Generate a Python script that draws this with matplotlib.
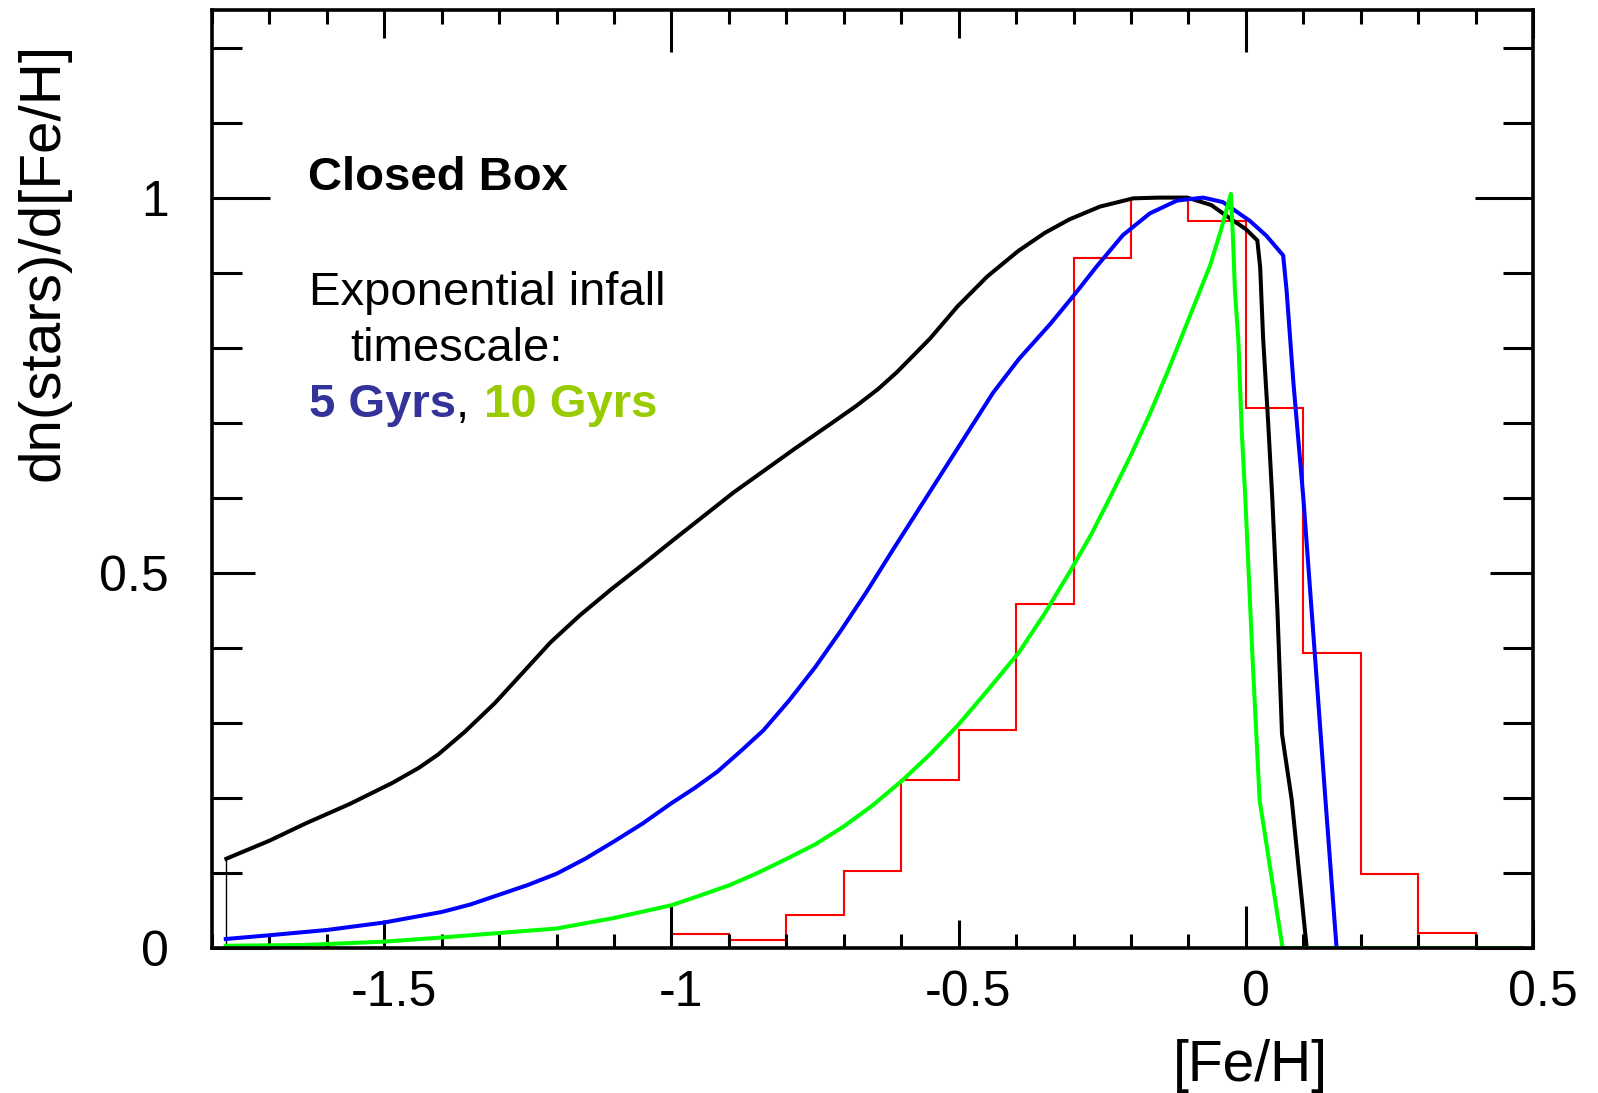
import numpy as np
import matplotlib
matplotlib.use('Agg')
import matplotlib.pyplot as plt
import matplotlib.transforms as mtransforms

plt.rcParams['font.family'] = ['Liberation Sans', 'DejaVu Sans']
plt.rcParams['axes.unicode_minus'] = False

# Closed box model (black)
closed_x = [-1.775, -1.70, -1.637, -1.56, -1.486, -1.44, -1.406, -1.36, -1.308, -1.26,
            -1.211, -1.16, -1.105, -1.05, -0.998, -0.892, -0.786, -0.72, -0.679, -0.64,
            -0.608, -0.55, -0.502, -0.45, -0.396, -0.35, -0.307, -0.254, -0.196, -0.150,
            -0.102, -0.060, -0.027, 0.0, 0.020, 0.025, 0.030, 0.039, 0.046, 0.055,
            0.063, 0.080, 0.106, 0.48]
closed_y = [0.119, 0.143, 0.166, 0.192, 0.220, 0.240, 0.258, 0.288, 0.326, 0.366,
            0.407, 0.443, 0.478, 0.511, 0.543, 0.607, 0.665, 0.700, 0.722, 0.745,
            0.767, 0.812, 0.855, 0.895, 0.929, 0.953, 0.971, 0.988, 0.999, 1.000,
            1.000, 0.990, 0.972, 0.958, 0.943, 0.907, 0.814, 0.699, 0.600, 0.450,
            0.285, 0.197, 0.0, 0.0]

# Exponential infall, 5 Gyr (blue)
infall5_x = [-1.776, -1.70, -1.60, -1.50, -1.40, -1.35, -1.30, -1.25, -1.20, -1.15,
             -1.10, -1.05, -1.00, -0.96, -0.92, -0.88, -0.84, -0.795, -0.75, -0.705,
             -0.66, -0.615, -0.57, -0.525, -0.48, -0.44, -0.395, -0.34, -0.297, -0.26,
             -0.214, -0.167, -0.12, -0.074, -0.04, 0.007, 0.036, 0.065, 0.071, 0.077,
             0.083, 0.092, 0.100, 0.120, 0.138, 0.158, 0.48]
infall5_y = [0.012, 0.017, 0.024, 0.034, 0.048, 0.058, 0.071, 0.084, 0.099, 0.119,
             0.142, 0.166, 0.193, 0.213, 0.235, 0.262, 0.290, 0.330, 0.374, 0.423,
             0.475, 0.530, 0.584, 0.638, 0.692, 0.740, 0.785, 0.832, 0.872, 0.908,
             0.950, 0.979, 0.996, 1.000, 0.994, 0.969, 0.949, 0.923, 0.876, 0.814,
             0.752, 0.672, 0.601, 0.393, 0.204, 0.0, 0.0]

# Exponential infall, 10 Gyr (green)
infall10_x = [-1.776, -1.64, -1.50, -1.40, -1.30, -1.20, -1.10, -1.00, -0.95, -0.898,
              -0.85, -0.799, -0.75, -0.70, -0.65, -0.60, -0.55, -0.50, -0.45, -0.395,
              -0.35, -0.306, -0.27, -0.236, -0.20, -0.167, -0.135, -0.109, -0.085,
              -0.062, -0.044, -0.026, -0.022, -0.019, -0.013, -0.007, -0.001, 0.011,
              0.024, 0.064, 0.48]
infall10_y = [0.003, 0.004, 0.0085, 0.014, 0.020, 0.026, 0.040, 0.057, 0.070, 0.084,
              0.100, 0.119, 0.138, 0.162, 0.190, 0.222, 0.258, 0.298, 0.343, 0.394,
              0.446, 0.502, 0.550, 0.601, 0.657, 0.712, 0.770, 0.820, 0.866,
              0.910, 0.955, 1.005, 0.939, 0.876, 0.810, 0.686, 0.601, 0.397,
              0.197, 0.0, 0.0]

# Observed distribution (red histogram)
obs_edges = [-1.0, -0.9, -0.8, -0.7, -0.6, -0.5, -0.4, -0.3, -0.2, -0.1, 0.0, 0.1, 0.2, 0.3, 0.4]
obs_heights = [0.018, 0.010, 0.044, 0.102, 0.224, 0.290, 0.459, 0.919, 1.0, 0.969,
               0.719, 0.393, 0.0985, 0.020]

x_ticks = [-1.5, -1.0, -0.5, 0.0, 0.5]
x_tick_labels = ['-1.5', '-1', '-0.5', '0', '0.5']
y_ticks = [0.0, 0.5, 1.0]
y_tick_labels = ['0', '0.5', '1']

W, H = 1598, 1093
fig = plt.figure(figsize=(W / 100, H / 100), dpi=100)
ax = fig.add_axes([212 / W, 1 - 948 / H, (1533 - 212) / W, (948 - 10) / H])

ax.vlines(closed_x[0], 0, closed_y[0], color='black', lw=1.0)
ax.plot(closed_x, closed_y, color='black', lw=2.9)
ax.stairs(obs_heights, obs_edges, color='red', lw=1.5)
ax.plot(infall5_x, infall5_y, color='blue', lw=2.9)
ax.plot(infall10_x, infall10_y, color='#00ff00', lw=2.9)

ax.set_xlim(-1.8, 0.5)
ax.set_ylim(0, 1.25)

ax.set_xticks(x_ticks)
ax.set_xticklabels(x_tick_labels)
ax.set_xticks(np.round(np.arange(-18, 6) * 0.1, 1), minor=True)
ax.set_yticks(y_ticks)
ax.set_yticklabels(y_tick_labels)
ax.set_yticks(np.round(np.arange(0, 13) * 0.1, 1), minor=True)

for s in ax.spines.values():
    s.set_linewidth(2.6)

ax.tick_params(axis='x', which='major', direction='in', top=True, bottom=True,
               length=20, width=2.2, labelsize=36, pad=16)
ax.tick_params(axis='x', which='minor', direction='in', top=True, bottom=True,
               length=10, width=2.2)
ax.tick_params(axis='y', which='major', direction='in', left=True, right=True,
               length=31, width=2.2, labelsize=36, pad=31)
ax.tick_params(axis='y', which='minor', direction='in', left=True, right=True,
               length=21.6, width=2.2)

# integer ticks are drawn longer
for tick in ax.xaxis.get_major_ticks():
    if abs(tick.get_loc() - round(tick.get_loc())) < 1e-9:
        tick.tick1line.set_markersize(30)
        tick.tick2line.set_markersize(30)
for tick in ax.yaxis.get_major_ticks():
    if abs(tick.get_loc() - round(tick.get_loc())) < 1e-9:
        tick.tick1line.set_markersize(42)
        tick.tick2line.set_markersize(42)

shift = mtransforms.ScaledTranslation(7 / 72, 0, fig.dpi_scale_trans)
for lab in ax.get_xticklabels():
    lab.set_transform(lab.get_transform() + shift)

fig.text(44 / W, 1 - 262 / H, 'dn(stars)/d[Fe/H]', rotation=90, ha='center',
         va='center', fontsize=42)
fig.text(1250 / W, 1 - 1066 / H, '[Fe/H]', ha='center', va='center', fontsize=41)

fs = 34
fig.text(308 / W, 1 - 189.5 / H, 'Closed Box', fontsize=fs, fontweight='bold', va='baseline')
fig.text(309 / W, 1 - 305 / H, 'Exponential infall', fontsize=fs, va='baseline')
fig.text(350 / W, 1 - 361 / H, 'timescale:', fontsize=fs, va='baseline')
t1 = fig.text(309 / W, 1 - 417 / H, '5 Gyrs', fontsize=fs, fontweight='bold',
              color='#333399', va='baseline')
t2 = ax.annotate(',', xy=(1, 0), xycoords=t1, va='bottom', fontsize=fs, color='black')
ax.annotate('10 Gyrs', xy=(1, 0), xycoords=t2, xytext=(10.5, 0), textcoords='offset points',
            va='bottom', fontsize=fs, fontweight='bold', color='#99cc00')

fig.savefig('out.png', dpi=100)
